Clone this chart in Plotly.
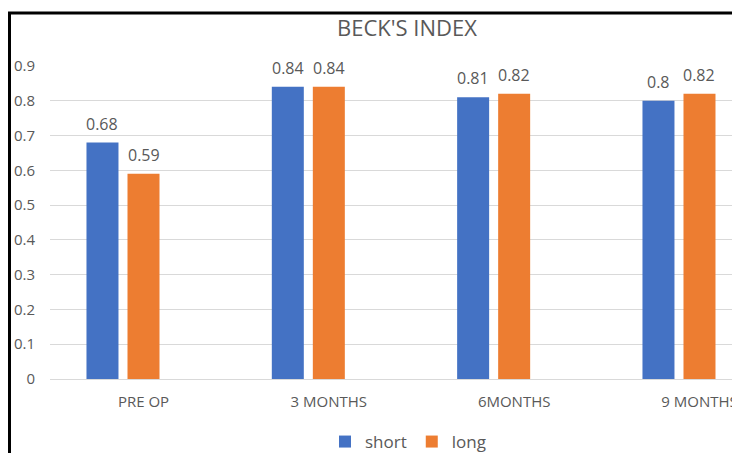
import plotly.graph_objects as go

categories = ["PRE OP", "3 MONTHS", "6MONTHS", "9 MONTHS"]
short_vals = [0.68, 0.84, 0.81, 0.8]
long_vals = [0.59, 0.84, 0.82, 0.82]
empty_vals = [None, None, None, None]  # third (empty) series slot in the original chart
y_ticks = [0, 0.1, 0.2, 0.3, 0.4, 0.5, 0.6, 0.7, 0.8, 0.9]

W, H = 732, 453
FONT = "Open Sans"
TXT = "#595959"
BLUE = "#4472C4"
ORANGE = "#ED7D31"

def px(x):
    return x / W

def py(y):
    return 1 - y / H

# plot-area geometry (pixels)
plot_left, plot_right = 50, 732
plot_top, plot_bottom = 66, 379
cat_w = 185.33
first_center = 143.5
x_lo = -(first_center - plot_left) / cat_w
x_hi = (plot_right - first_center) / cat_w
bargap = 0.336
slot_w = cat_w * (1 - bargap) / 3

fig = go.Figure()
fig.add_trace(go.Bar(name="short", x=categories, y=short_vals, marker_color=BLUE,
                     marker_line_width=0))
fig.add_trace(go.Bar(name="long", x=categories, y=long_vals, marker_color=ORANGE,
                     marker_line_width=0))
fig.add_trace(go.Bar(name="", x=categories, y=empty_vals, marker_color="#A5A5A5",
                     showlegend=False, hoverinfo="skip"))

annotations = []
for vals, shift in ((short_vals, -slot_w), (long_vals, 0.0)):
    for c, v in zip(categories, vals):
        annotations.append(dict(x=c, y=v, xref="x", yref="y", text=str(v), showarrow=False,
                                xshift=shift, yanchor="bottom", yshift=6,
                                font=dict(size=16, color=TXT, family=FONT)))

fig.update_layout(
    width=W, height=H,
    margin=dict(l=0, r=0, t=0, b=0, autoexpand=False),
    paper_bgcolor="white", plot_bgcolor="white",
    barmode="group", bargap=bargap, bargroupgap=0.22,
    font=dict(family=FONT, color=TXT),
    title=dict(text="BECK'S INDEX", x=px(407), xanchor="center", y=py(28), yanchor="middle",
               font=dict(size=22, color=TXT, family=FONT)),
    xaxis=dict(domain=[px(plot_left), 1], range=[x_lo, x_hi], showgrid=False, showline=False,
               ticks="", ticklabelstandoff=12, tickfont=dict(size=15, color=TXT)),
    yaxis=dict(domain=[py(plot_bottom), py(plot_top)], range=[0, 0.9], tickvals=y_ticks,
               ticktext=[str(v) for v in y_ticks], showgrid=True, gridcolor="#D9D9D9",
               gridwidth=1, zeroline=True, zerolinecolor="#D9D9D9", zerolinewidth=1,
               showline=False, ticks="", ticklabelstandoff=14,
               tickfont=dict(size=15, color=TXT)),
    showlegend=True,
    legend=dict(orientation="h", xref="container", yref="container",
                x=px(408), xanchor="center", y=py(442), yanchor="middle",
                font=dict(size=17, color=TXT), bgcolor="rgba(0,0,0,0)", itemwidth=30),
    annotations=annotations,
    shapes=[
        dict(type="line", xref="paper", yref="paper", x0=px(8), x1=1.0, y0=py(13), y1=py(13),
             line=dict(color="black", width=3)),
        dict(type="line", xref="paper", yref="paper", x0=px(9.5), x1=px(9.5), y0=py(12), y1=0,
             line=dict(color="black", width=3)),
    ],
)

fig.write_html("out.html", config={"displayModeBar": False},
               post_script="document.body.style.margin='0';")
